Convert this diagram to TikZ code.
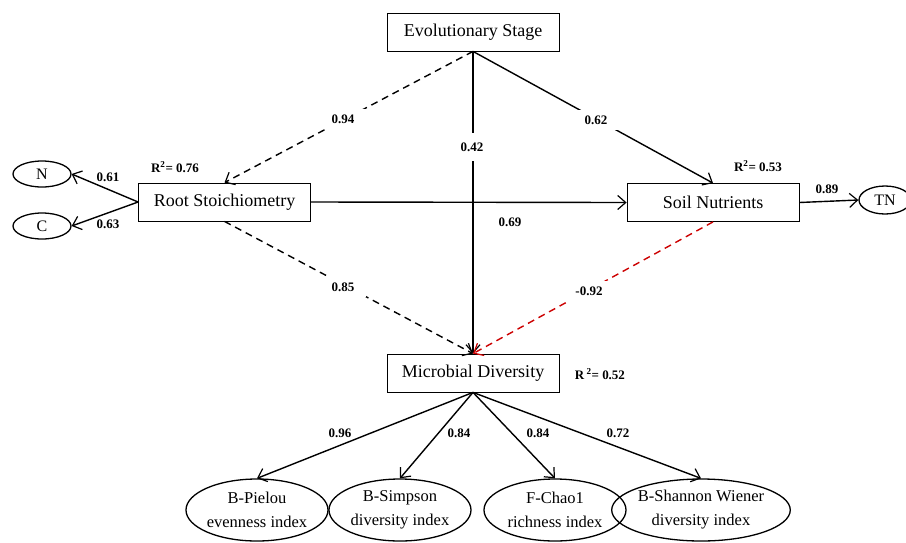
\documentclass[tikz,border=0pt]{standalone}
\usepackage{fontspec}
\setmainfont{Liberation Serif}
\usetikzlibrary{arrows.meta,shapes.geometric}
\begin{document}
\begin{tikzpicture}[x=1pt,y=-1pt,
  box/.style={draw,line width=0.8pt,minimum width=172pt,minimum height=38pt,inner sep=0pt,font=\fontsize{18}{21}\selectfont},
  ell/.style={draw,ellipse,line width=1.3pt,inner sep=0pt,align=center,font=\fontsize{16.5}{24}\selectfont},
  small/.style={ell,minimum width=58pt,minimum height=26pt,font=\fontsize{16}{19}\selectfont},
  big/.style={ell,minimum width=142pt,minimum height=62pt},
  arr/.style={line width=1.4pt,-{Straight Barb[length=8pt,width=14pt,line width=1.2pt]}},
  dsh/.style={arr,dash pattern=on 7pt off 5pt},
  lab/.style={font=\fontsize{13}{15}\selectfont\bfseries,inner sep=1pt},
  gaplab/.style={lab,fill=white,inner xsep=12pt,inner ysep=6pt},
]
\useasboundingbox (0,0) rectangle (906,542);
% boxes
\node[box] (es) at (473,32) {Evolutionary Stage};
\node[box] (rs) at (224.5,202) {Root Stoichiometry};
\node[box] (sn) at (713,202.5) {Soil Nutrients};
\node[box] (md) at (473,373) {Microbial Diversity};
% ellipses
\node[small] (n) at (42,174) {N};
\node[small] (c) at (42,226) {C};
\node[small,minimum width=52pt,minimum height=28pt] (tn) at (885,200) {TN};
\node[big] (p) at (257,510) {B-Pielou\\evenness index};
\node[big] (s) at (400,510) {B-Simpson\\diversity index};
\node[big] (ch) at (555,510) {F-Chao1\\richness index};
\node[big] (sh) at (701,510) {B-Shannon Wiener\\diversity index};
% connectors
\draw[dsh] (es.south) -- (rs.north);
\draw[arr] (es.south) -- (md.north);
\draw[arr] (es.south) -- (sn.north);
\draw[arr] (rs.east) -- (sn.west);
\draw[dsh] (rs.south) -- (md.north);
\draw[dsh,color=red!80!black] (sn.south) -- (md.north);
\draw[arr] (rs.west) -- (n.east);
\draw[arr] (rs.west) -- (c.east);
\draw[arr] (sn.east) -- (tn.west);
\draw[arr] (md.south) -- (p.north);
\draw[arr] (md.south) -- (s.north);
\draw[arr] (md.south) -- (ch.north);
\draw[arr] (md.south) -- (sh.north);
% labels on lines
\node[gaplab] (l94) at (343,119) {0.94};
\node[gaplab,inner ysep=10pt] (l42) at (472,147) {0.42};
\node[gaplab] (l62) at (596,120) {0.62};
\node[gaplab] (l85) at (343,287) {0.85};
\node[gaplab] (l92) at (589,291) {-0.92};
% other labels
\node[lab] (l61) at (108,177) {0.61};
\node[lab] (l63) at (108,224) {0.63};
\node[lab] (r76) at (175,167) {R\textsuperscript{2}= 0.76};
\node[lab] (r53) at (758,166) {R\textsuperscript{2}= 0.53};
\node[lab] (l89) at (827,189) {0.89};
\node[lab] (l69) at (510,222) {0.69};
\node[lab] (r52) at (600,374) {R\,\textsuperscript{2}= 0.52};
\node[lab] (l96) at (340,433) {0.96};
\node[lab] (l84a) at (459,433) {0.84};
\node[lab] (l84b) at (538,433) {0.84};
\node[lab] (l72) at (618,433) {0.72};
\end{tikzpicture}
\end{document}
